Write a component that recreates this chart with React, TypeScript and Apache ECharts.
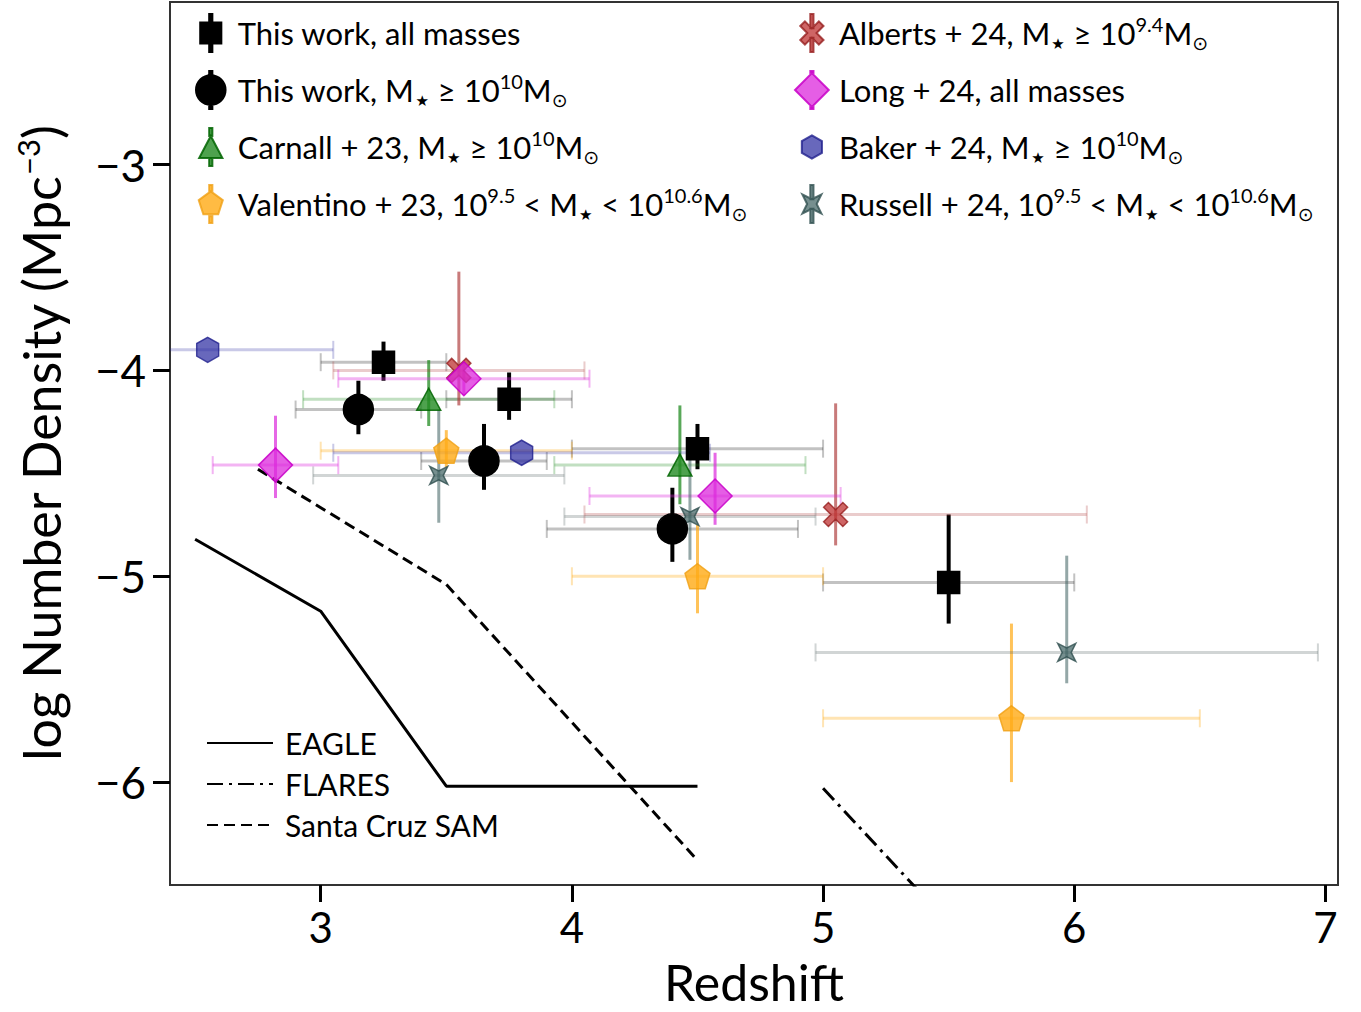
import React, { useEffect, useRef } from "react";
import * as echarts from "echarts";

// Each row: [redshift, log n, redshift low, redshift high, log n low, log n high]
const thisWorkAll = [
  [3.25, -3.96, 3.0, 3.5, -4.05, -3.86],
  [3.75, -4.14, 3.5, 4.0, -4.24, -4.01],
  [4.5, -4.38, 4.0, 5.0, -4.48, -4.26],
  [5.5, -5.03, 5.0, 6.0, -5.23, -4.7],
];
const thisWorkMassive = [
  [3.15, -4.19, 2.9, 3.4, -4.31, -4.05],
  [3.65, -4.44, 3.4, 3.9, -4.58, -4.26],
  [4.4, -4.77, 3.9, 4.9, -4.93, -4.57],
];
const carnall23 = [
  [3.43, -4.14, 2.93, 3.93, -4.27, -3.95],
  [4.43, -4.46, 3.93, 4.93, -4.65, -4.17],
];
const valentino23 = [
  [3.5, -4.39, 3.0, 4.0, -4.47, -4.29],
  [4.5, -5.0, 4.0, 5.0, -5.18, -4.75],
  [5.75, -5.69, 5.0, 6.5, -6.0, -5.23],
];
const alberts24 = [
  [3.55, -4.0, 3.05, 4.05, -4.17, -3.52],
  [5.05, -4.7, 4.05, 6.05, -4.85, -4.16],
];
const long24 = [
  [2.82, -4.46, 2.57, 3.07, -4.62, -4.22],
  [3.57, -4.04, 3.07, 4.07, -4.12, -3.96],
  [4.57, -4.61, 4.07, 5.07, -4.75, -4.4],
];
const baker24 = [
  [2.55, -3.9, 2.05, 3.05, -3.9, -3.9],
  [3.8, -4.4, 3.05, 4.55, -4.4, -4.4],
];
const russell24 = [
  [3.47, -4.51, 2.97, 3.97, -4.74, -4.19],
  [4.47, -4.71, 3.97, 4.97, -4.92, -4.43],
  [5.97, -5.37, 4.97, 6.97, -5.52, -4.9],
];

// Simulation curves: [redshift, log n]
const eagle = [[2.5, -4.82], [3.0, -5.17], [3.5, -6.02], [4.5, -6.02]];
const flares = [[5.0, -6.03], [6.0, -7.34]];
const santaCruz = [[2.75, -4.48], [3.5, -5.04], [4.5, -6.38]];

const xTicks = [3, 4, 5, 6, 7];
const yTicks = [-6, -5, -4, -3];

const FONT = "Lato, 'DejaVu Sans', sans-serif";

// marker shapes
const PENTAGON = "path://M0,-10 L9.51,-3.09 L5.88,8.09 L-5.88,8.09 L-9.51,-3.09 Z";
const HEXAGON = "path://M0,-10 L8.66,-5 L8.66,5 L0,10 L-8.66,5 L-8.66,-5 Z";
const XMARK = "path://M-10,-6 L-6,-10 L0,-4 L6,-10 L10,-6 L4,0 L10,6 L6,10 L0,4 L-6,10 L-10,6 L-4,0 Z";
const STAR4 = "path://M-10,-10 L0,-5 L10,-10 L5,0 L10,10 L0,5 L-10,10 L-5,0 Z";

const bars = (t: number) =>
  `M-1.5,-18 L1.5,-18 L1.5,${-t} L-1.5,${-t} Z M-1.5,${t} L1.5,${t} L1.5,18 L-1.5,18 Z `;
const ICONS: Record<string, string> = {
  square: "path://" + bars(10) + "M-10,-10 L10,-10 L10,10 L-10,10 Z",
  circle: "path://" + bars(13.5) + "M-14,0 A14,14 0 1,1 14,0 A14,14 0 1,1 -14,0 Z",
  triangle: "path://" + bars(10.5) + "M0,-10.5 L11,10.5 L-11,10.5 Z",
  pentagon: "path://" + bars(11.5) + "M0,-12 L11.41,-3.71 L7.05,9.71 L-7.05,9.71 L-11.41,-3.71 Z",
  x: "path://" + bars(4.5) + "M-11,-6.6 L-6.6,-11 L0,-4.4 L6.6,-11 L11,-6.6 L4.4,0 L11,6.6 L6.6,11 L0,4.4 L-6.6,11 L-11,6.6 L-4.4,0 Z",
  diamond: "path://" + bars(16) + "M0,-16 L16,0 L0,16 L-16,0 Z",
  hexagon: "path://M0,-18 L0,-18 M0,18 L0,18 M0,-11 L9.53,-5.5 L9.53,5.5 L0,11 L-9.53,5.5 L-9.53,-5.5 Z",
  star: "path://" + bars(4.5) + "M-9,-9 L0,-4.5 L9,-9 L4.5,0 L9,9 L0,4.5 L-9,9 L-4.5,0 Z",
};

const MS = "{star|\u2605}";
const SUN = "{sub|\u2299}";

const datasets = [
  {
    name: "This work, all masses", label: "This work, all masses",
    rows: thisWorkAll, symbol: "rect", size: 22, icon: ICONS.square,
    fill: "#000", edge: "#000", v: "#000", vw: 4, h: "rgba(0,0,0,0.24)", z: 6,
  },
  {
    name: "This work, massive", label: `This work, M${MS} ≥ 10{sup|10}M${SUN}`,
    rows: thisWorkMassive, symbol: "circle", size: 30, icon: ICONS.circle,
    fill: "#000", edge: "#000", v: "#000", vw: 4, h: "rgba(0,0,0,0.24)", z: 6,
  },
  {
    name: "Carnall+23", label: `Carnall + 23, M${MS} ≥ 10{sup|10}M${SUN}`,
    rows: carnall23, symbol: "triangle", size: [24, 22], icon: ICONS.triangle,
    fill: "rgba(34,139,34,0.8)", edge: "rgba(0,100,0,0.85)", v: "rgba(34,139,34,0.75)", vw: 3, h: "rgba(34,139,34,0.28)", z: 4,
  },
  {
    name: "Valentino+23", label: `Valentino + 23, 10{sup|9.5} < M${MS} < 10{sup|10.6}M${SUN}`,
    rows: valentino23, symbol: PENTAGON, size: 25, icon: ICONS.pentagon,
    fill: "rgba(255,170,20,0.8)", edge: "rgba(240,160,20,0.8)", v: "rgba(255,170,20,0.7)", vw: 3, h: "rgba(255,170,20,0.32)", z: 4,
  },
  {
    name: "Alberts+24", label: `Alberts + 24, M${MS} ≥ 10{sup|9.4}M${SUN}`,
    rows: alberts24, symbol: XMARK, size: 24, icon: ICONS.x,
    fill: "rgba(190,50,50,0.75)", edge: "rgba(150,30,30,0.8)", v: "rgba(170,50,50,0.65)", vw: 3, h: "rgba(170,50,50,0.25)", z: 4,
  },
  {
    name: "Long+24", label: "Long + 24, all masses",
    rows: long24, symbol: "diamond", size: 34, icon: ICONS.diamond,
    fill: "rgba(220,40,220,0.75)", edge: "rgba(200,0,200,0.85)", v: "rgba(220,40,220,0.7)", vw: 3, h: "rgba(220,40,220,0.35)", z: 4,
  },
  {
    name: "Baker+24", label: `Baker + 24, M${MS} ≥ 10{sup|10}M${SUN}`,
    rows: baker24, symbol: HEXAGON, size: [22, 25], icon: ICONS.hexagon,
    fill: "rgba(40,40,160,0.7)", edge: "rgba(30,30,140,0.8)", v: "rgba(40,40,160,0.6)", vw: 3, h: "rgba(40,40,160,0.25)", z: 4,
  },
  {
    name: "Russell+24", label: `Russell + 24, 10{sup|9.5} < M${MS} < 10{sup|10.6}M${SUN}`,
    rows: russell24, symbol: STAR4, size: 18, icon: ICONS.star,
    fill: "rgba(60,95,95,0.7)", edge: "rgba(47,79,79,0.8)", v: "rgba(60,95,95,0.55)", vw: 3, h: "rgba(90,105,105,0.28)", z: 4,
  },
];

const labelMap: Record<string, string> = {};
datasets.forEach((d) => (labelMap[d.name] = d.label));

const legendRich = {
  sup: { fontSize: 20, lineHeight: 18, verticalAlign: "top", fontFamily: FONT, color: "#000" },
  sub: { fontSize: 19, lineHeight: 19, verticalAlign: "bottom", fontFamily: "'DejaVu Sans'", color: "#000" },
  star: { fontSize: 15, lineHeight: 15, verticalAlign: "bottom", fontFamily: "'DejaVu Sans'", color: "#000", padding: [0, 1, 1, 1] },
};

function errorSeries(d: any) {
  return {
    type: "custom",
    name: d.name + " errors",
    data: d.rows,
    encode: { x: 0, y: 1 },
    clip: true,
    silent: true,
    z: 2,
    renderItem: (_p: any, api: any) => {
      const x = api.value(0), y = api.value(1);
      const c = api.coord([x, y]);
      const l = api.coord([api.value(2), y]);
      const r = api.coord([api.value(3), y]);
      const b = api.coord([x, api.value(4)]);
      const t = api.coord([x, api.value(5)]);
      const cap = 9;
      const hs = { stroke: d.h, lineWidth: 3 };
      const cs = { stroke: d.h, lineWidth: 2 };
      const children: any[] = [
        { type: "line", shape: { x1: l[0], y1: c[1], x2: r[0], y2: c[1] }, style: hs },
        { type: "line", shape: { x1: l[0], y1: c[1] - cap, x2: l[0], y2: c[1] + cap }, style: cs },
        { type: "line", shape: { x1: r[0], y1: c[1] - cap, x2: r[0], y2: c[1] + cap }, style: cs },
      ];
      if (Math.abs(b[1] - t[1]) > 0.5) {
        children.push({
          type: "line",
          shape: { x1: c[0], y1: t[1], x2: c[0], y2: b[1] },
          style: { stroke: d.v, lineWidth: d.vw },
        });
      }
      return { type: "group", children };
    },
  };
}

function markerSeries(d: any) {
  return {
    type: "scatter",
    name: d.name,
    data: d.rows.map((r: number[]) => [r[0], r[1]]),
    symbol: d.symbol,
    symbolSize: d.size,
    z: d.z,
    silent: true,
    itemStyle: { color: d.fill, borderColor: d.edge, borderWidth: 1.5, opacity: 1 },
  };
}

const minus = (v: number) => (v < 0 ? "\u2212" + Math.abs(v) : String(v));

export default function App() {
  const ref = useRef<HTMLDivElement>(null);
  useEffect(() => {
    if (!ref.current) return;
    const chart = echarts.init(ref.current, undefined, { renderer: "svg" });
    const legendBase = {
      orient: "vertical",
      top: 8,
      padding: 5,
      itemWidth: 44,
      itemHeight: 38,
      itemGap: 17,
      selectedMode: false,
      formatter: (n: string) => labelMap[n] || n,
      textStyle: { fontFamily: FONT, fontSize: 31, lineHeight: 38, color: "#000", rich: legendRich },
    };
    const option: any = {
      animation: false,
      backgroundColor: "#fff",
      grid: { left: 170, right: 23, top: 2, bottom: 125, show: true, borderColor: "#333", borderWidth: 2, backgroundColor: "transparent" },
      xAxis: {
        type: "value",
        min: 2.4,
        max: 7.05,
        name: "Redshift",
        nameLocation: "middle",
        nameGap: 72,
        nameTextStyle: { fontFamily: FONT, fontSize: 50, color: "#000" },
        axisLine: { show: true, onZero: false, lineStyle: { color: "#333", width: 2 } },
        axisTick: { show: true, inside: false, length: 17, customValues: xTicks, lineStyle: { color: "#000", width: 3 } },
        axisLabel: { customValues: xTicks, margin: 21, fontFamily: FONT, fontSize: 42, color: "#000", formatter: minus },
        splitLine: { show: false },
      },
      yAxis: {
        type: "value",
        min: -6.5,
        max: -2.21,
        name: "log Number Density (Mpc{sup|\u22123})",
        nameLocation: "middle",
        nameRotate: 90,
        nameGap: 100,
        nameTextStyle: {
          fontFamily: FONT, fontSize: 52, color: "#000", lineHeight: 58,
          rich: { sup: { fontFamily: FONT, fontSize: 31, lineHeight: 30, verticalAlign: "top", color: "#000" } },
        },
        axisLine: { show: true, onZero: false, lineStyle: { color: "#333", width: 2 } },
        axisTick: { show: true, inside: false, length: 17, customValues: yTicks, lineStyle: { color: "#000", width: 3 } },
        axisLabel: { customValues: yTicks, margin: 24, fontFamily: FONT, fontSize: 44, color: "#000", formatter: minus },
        splitLine: { show: false },
      },
      legend: [
        { ...legendBase, left: 190, data: datasets.slice(0, 4).map((d) => ({ name: d.name, icon: d.icon })) },
        { ...legendBase, left: 789, data: datasets.slice(4).map((d) => ({ name: d.name, icon: d.icon })) },
        {
          orient: "vertical",
          left: 201,
          top: 723,
          itemWidth: 66,
          itemHeight: 14,
          itemGap: 11,
          selectedMode: false,
          itemStyle: { opacity: 0 },
          data: ["EAGLE", "FLARES", "Santa Cruz SAM"],
          textStyle: { fontFamily: FONT, fontSize: 30, lineHeight: 30, color: "#000", padding: [0, 0, 0, 7] },
        },
      ],
      series: [
        { type: "line", name: "EAGLE", data: eagle, symbol: "none", z: 1, silent: true, lineStyle: { color: "#000", width: 3, type: "solid" }, itemStyle: { color: "#000" } },
        { type: "line", name: "FLARES", data: flares, symbol: "none", z: 1, silent: true, lineStyle: { color: "#000", width: 3, type: [16, 6, 3, 6] }, itemStyle: { color: "#000" } },
        { type: "line", name: "Santa Cruz SAM", data: santaCruz, symbol: "none", z: 1, silent: true, lineStyle: { color: "#000", width: 3, type: [11, 6] }, itemStyle: { color: "#000" } },
        ...datasets.map(errorSeries),
        ...datasets.slice(2).map(markerSeries),
        ...datasets.slice(0, 2).map(markerSeries),
      ],
    };
    chart.setOption(option);
    return () => chart.dispose();
  }, []);
  return <div ref={ref} style={{ position: "fixed", left: 0, top: 0, width: 1361, height: 1012, background: "#fff" }} />;
}
